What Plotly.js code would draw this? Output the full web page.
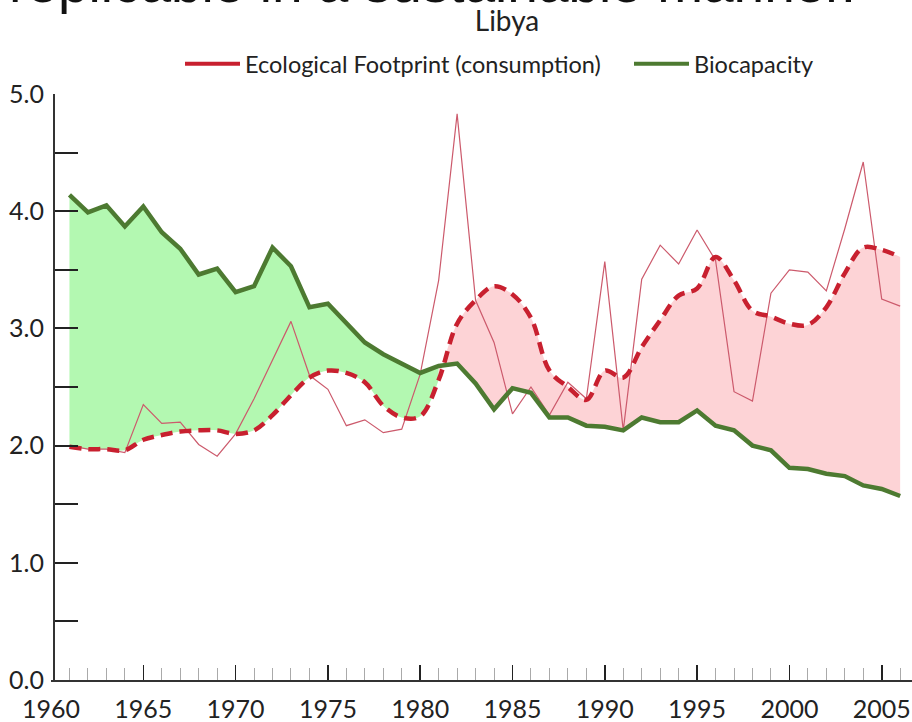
<!DOCTYPE html>
<html>
<head>
<meta charset="utf-8">
<script src="https://cdn.plot.ly/plotly-3.0.1.min.js"></script>
<style>html,body{margin:0;padding:0;background:#fff;}#chart{width:912px;height:722px;}</style>
</head>
<body>
<div id="chart"></div>
<script>
// ---- data ----
var years = [1961,1962,1963,1964,1965,1966,1967,1968,1969,1970,
             1971,1972,1973,1974,1975,1976,1977,1978,1979,1980,
             1981,1982,1983,1984,1985,1986,1987,1988,1989,1990,
             1991,1992,1993,1994,1995,1996,1997,1998,1999,2000,
             2001,2002,2003,2004,2005,2006];
var biocapacity = [4.14,3.99,4.05,3.87,4.04,3.82,3.68,3.46,3.51,3.31,
                   3.36,3.69,3.53,3.18,3.21,3.04,2.88,2.78,2.70,2.62,
                   2.68,2.70,2.53,2.31,2.49,2.45,2.24,2.24,2.17,2.16,
                   2.13,2.24,2.20,2.20,2.30,2.17,2.13,2.00,1.96,1.81,
                   1.80,1.76,1.74,1.66,1.63,1.57];
var footprintAnnual = [2.00,1.97,1.97,1.94,2.35,2.19,2.20,2.01,1.91,2.10,
                       2.40,2.73,3.06,2.60,2.48,2.17,2.22,2.11,2.14,2.61,
                       3.41,4.83,3.24,2.88,2.27,2.50,2.26,2.54,2.40,3.57,
                       2.13,3.42,3.71,3.55,3.84,3.58,2.46,2.38,3.30,3.50,
                       3.48,3.32,3.85,4.42,3.25,3.19];
var footprintTrend = [1.99,1.97,1.97,1.96,2.05,2.09,2.12,2.13,2.13,2.10,
                      2.13,2.26,2.43,2.58,2.64,2.62,2.54,2.34,2.24,2.25,
                      2.56,3.04,3.24,3.36,3.29,3.09,2.64,2.50,2.39,2.64,
                      2.58,2.84,3.07,3.28,3.34,3.61,3.41,3.15,3.10,3.04,
                      3.03,3.18,3.47,3.69,3.67,3.61];
var seriesNames = ["Ecological Footprint (consumption)", "Biocapacity"];
var chartTitle = "Libya";
var headText = "replicable in a sustainable manner.";
var splitYear = 1981; // last year where biocapacity exceeds footprint

// ---- styles ----
var FONT = "Lato, 'Noto Sans', sans-serif";
var GREEN = "#4d7a31", RED = "#c8202f", THIN = "#cc5a6c";
var GREEN_FILL = "#b3f8b1", PINK_FILL = "#fdd3d6";

var splitIdx = years.indexOf(splitYear);
function part(arr, a, b) { return arr.slice(a, b); }

var traces = [
  // green surplus region
  {x: part(years,0,splitIdx+1), y: part(footprintTrend,0,splitIdx+1), mode:"lines",
   line:{width:0, shape:"spline"}, showlegend:false, hoverinfo:"skip"},
  {x: part(years,0,splitIdx+1), y: part(biocapacity,0,splitIdx+1), mode:"lines",
   line:{width:0}, fill:"tonexty", fillcolor:GREEN_FILL, showlegend:false, hoverinfo:"skip"},
  // pink deficit region
  {x: part(years,splitIdx), y: part(footprintTrend,splitIdx), mode:"lines",
   line:{width:0, shape:"spline"}, showlegend:false, hoverinfo:"skip"},
  {x: part(years,splitIdx), y: part(biocapacity,splitIdx), mode:"lines",
   line:{width:0}, fill:"tonexty", fillcolor:PINK_FILL, showlegend:false, hoverinfo:"skip"},
  // annual footprint thin line
  {x: years, y: footprintAnnual, mode:"lines", line:{color:THIN, width:1.2},
   showlegend:false, hoverinfo:"skip"},
  // smoothed footprint dashed
  {x: years, y: footprintTrend, mode:"lines",
   line:{color:RED, width:4.5, dash:"12px,7px", shape:"spline"},
   showlegend:false, hoverinfo:"skip"},
  // biocapacity
  {x: years, y: biocapacity, mode:"lines", line:{color:GREEN, width:4.5},
   showlegend:false, hoverinfo:"skip"},
  // legend entries
  {x:[null], y:[null], mode:"lines", name:seriesNames[0], line:{color:RED, width:4}, legend:"legend"},
  {x:[null], y:[null], mode:"lines", name:seriesNames[1], line:{color:GREEN, width:4}, legend:"legend2"}
];

var L = 51, R = 0, T = 94, B = 42, W = 912, H = 722;
var plotW = W - L - R, plotH = H - T - B;

var legendBase = {orientation:"h", xref:"container", yref:"container",
                  xanchor:"left", yanchor:"middle", y: 1 - 64/H,
                  font:{family:FONT, size:23.5, color:"#222"},
                  itemwidth: 55, bgcolor:"rgba(0,0,0,0)", borderwidth:0};
var legend1 = Object.assign({}, legendBase, {x: 180/W});
var legend2 = Object.assign({}, legendBase, {x: 629/W});

var layout = {
  width: W, height: H,
  margin: {l:L, r:R, t:T, b:B, pad:0, autoexpand:false},
  paper_bgcolor: "#fff", plot_bgcolor: "#fff",
  font: {family: FONT, color: "#222"},
  hovermode: false,
  title: {text: chartTitle, font:{family:FONT, size:28, color:"#222"},
          xref:"container", x: 507/W, xanchor:"center",
          yref:"container", y: 1 - 21/H, yanchor:"middle"},
  showlegend: true,
  legend: legend1,
  legend2: legend2,
  xaxis: {range:[1960, 1960 + plotW/18.46], showgrid:false, zeroline:false,
          showline:true, linecolor:"#333", linewidth:2,
          tick0:1960, dtick:5, ticks:"inside", ticklen:15, tickwidth:1.6, tickcolor:"#222",
          minor:{dtick:1, ticks:"inside", ticklen:12, tickwidth:1, tickcolor:"#aaa", showgrid:false},
          ticklabelstandoff: 6,
          tickfont:{family:FONT, size:25, color:"#222"}},
  yaxis: {range:[0,5], showgrid:false, zeroline:false,
          anchor:"free", position: 3/plotW,
          showline:true, linecolor:"#333", linewidth:2,
          dtick:1, tickformat:".1f", ticks:"inside", ticklen:23, tickwidth:2, tickcolor:"#222",
          minor:{dtick:0.5, ticks:"inside", ticklen:23, tickwidth:2, tickcolor:"#222", showgrid:false},
          ticklabelstandoff: 4,
          tickfont:{family:FONT, size:25, color:"#222"}},
  annotations: [
    {text: headText, xref:"paper", yref:"paper", showarrow:false,
     x: (7 - L)/plotW, xanchor:"left", y: (H - B - 16)/plotH, yanchor:"bottom",
     font:{family:"'Liberation Sans', Arial, sans-serif", size:55, color:"#111"}}
  ]
};

Plotly.newPlot("chart", traces, layout, {displayModeBar:false, staticPlot:true});
</script>
</body>
</html>
